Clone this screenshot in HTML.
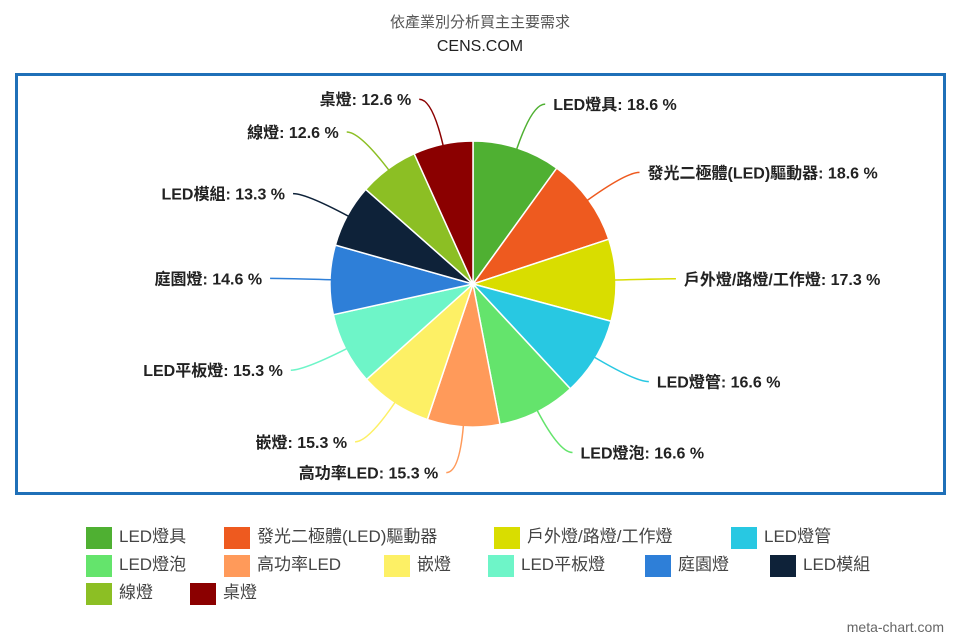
<!DOCTYPE html>
<html><head><meta charset="utf-8"><style>
body{margin:0;width:960px;height:640px;background:#fff;overflow:hidden;font-family:"Liberation Sans","Noto Sans CJK TC",sans-serif;}
.t{position:absolute;left:0;width:960px;text-align:center;font-size:15px;}
#box{position:absolute;left:15px;top:73px;width:925px;height:416px;border:3px solid #1f70b8;}
.lg{position:absolute;font-size:17px;color:#444;white-space:nowrap;font-family:"Liberation Sans","Noto Sans CJK TC",sans-serif;}
.sw{display:inline-block;width:26px;height:22px;vertical-align:middle;margin-right:7px;}
</style></head><body>
<div class="t" style="top:11px;color:#555">依產業別分析買主主要需求</div>
<div class="t" style="top:38px;color:#222;font-size:16px">CENS.COM</div>
<div id="box"></div>
<svg id="pie" width="960" height="640" style="position:absolute;left:0;top:0"></svg>
<div id="legend"></div>
<div style="position:absolute;right:16px;top:619px;font-size:14px;color:#666">meta-chart.com</div>
<script>
const categories=["LED燈具","發光二極體(LED)驅動器","戶外燈/路燈/工作燈","LED燈管","LED燈泡","高功率LED","嵌燈","LED平板燈","庭園燈","LED模組","線燈","桌燈"];
const values=[18.6,18.6,17.3,16.6,16.6,15.3,15.3,15.3,14.6,13.3,12.6,12.6];
const colors=["#4fb032","#ee5a1f","#d9dd00","#28c8e2","#64e46c","#ff9a5a","#fdf065","#6ef5c8","#2e7fd8","#0e2239","#8cbf24","#8b0000"];
const NS="http://www.w3.org/2000/svg";
const svg=document.getElementById('pie');
const cx=473,cy=284,r=143;
const total=values.reduce((a,b)=>a+b,0);
function pt(a,rad){return [cx+rad*Math.sin(a),cy-rad*Math.cos(a)];}
let a0=0;
values.forEach((v,i)=>{
  const a1=a0+v/total*2*Math.PI;
  const p0=pt(a0,r),p1=pt(a1,r);
  const path=document.createElementNS(NS,'path');
  path.setAttribute('d',`M${cx},${cy}L${p0[0]},${p0[1]}A${r},${r} 0 ${a1-a0>Math.PI?1:0} 1 ${p1[0]},${p1[1]}Z`);
  path.setAttribute('fill',colors[i]);path.setAttribute('stroke','#fff');path.setAttribute('stroke-width','1.5');
  
  
  svg.appendChild(path);
  const m=(a0+a1)/2;
  const s=pt(m,r-8),e=pt(m,r+46);
  const right=Math.sin(m)>=0;
  const ex=e[0]+(right?14:-14);
  const ln=document.createElementNS(NS,'path');
  ln.setAttribute('d',`M${s[0]},${s[1]}Q${e[0]},${e[1]} ${ex},${e[1]}`);
  ln.setAttribute('fill','none');ln.setAttribute('stroke',colors[i]);ln.setAttribute('stroke-width','1.5');
  
  
  svg.appendChild(ln);
  const tx=document.createElementNS(NS,'text');
  tx.setAttribute('x',ex+(right?8:-8));tx.setAttribute('y',e[1]+6);
  tx.setAttribute('text-anchor',right?'start':'end');
  tx.setAttribute('font-size','16');tx.setAttribute('font-weight','bold');tx.setAttribute('fill','#222');
  tx.setAttribute('font-family','"Liberation Sans","Noto Sans CJK TC",sans-serif');
  tx.textContent=categories[i]+': '+v.toFixed(1)+' %';
  
  
  svg.appendChild(tx);
  a0=a1;
});
const lpos=[[86,522],[224,522],[494,522],[731,522],[86,550],[224,550],[384,550],[488,550],[645,550],[770,550],[86,578],[190,578]];
const leg=document.getElementById('legend');
categories.forEach((c,i)=>{
  const d=document.createElement('div');
  d.className='lg';d.style.left=lpos[i][0]+'px';d.style.top=lpos[i][1]+'px';
  d.innerHTML='<span class="sw" style="background:'+colors[i]+'"></span>'+c;
  
  
  leg.appendChild(d);
});
</script>
</body></html>
